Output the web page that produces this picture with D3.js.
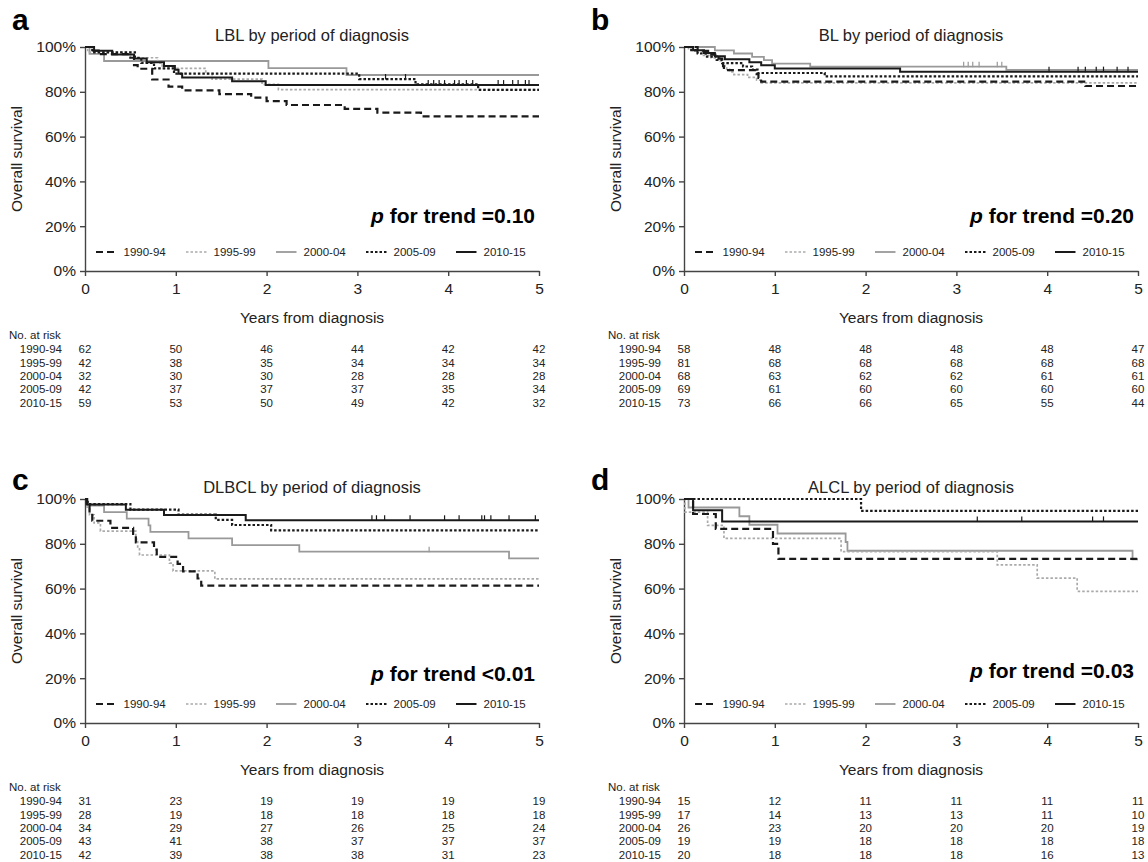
<!DOCTYPE html>
<html>
<head>
<meta charset="utf-8">
<script src="https://cdn.jsdelivr.net/npm/d3@7"></script>
<style>
  html, body { margin: 0; padding: 0; background: #fff; }
  svg { display: block; font-family: Arial, "Liberation Sans", Helvetica, sans-serif; }
</style>
</head>
<body>
<svg id="chart" width="1148" height="862"></svg>
<script>
const periods = ['1990-94', '1995-99', '2000-04', '2005-09', '2010-15']
const panelLetters = ['a', 'b', 'c', 'd']
const panelTitles = ['LBL by period of diagnosis', 'BL by period of diagnosis',
  'DLBCL by period of diagnosis', 'ALCL by period of diagnosis']
const trendValues = ['=0.10', '=0.20', '<0.01', '=0.03']
const xTicks = [0, 1, 2, 3, 4, 5]
const yTicks = [0, 20, 40, 60, 80, 100]

// survival steps: [years, survival %] after each drop, one list per period
const lblSteps = [
  [[0.08, 98.4], [0.15, 96.8], [0.47, 95.2], [0.54, 91.9], [0.58, 90.3], [0.74, 85.5], [0.92, 82.3],
    [1.07, 80.6], [1.48, 79.0], [1.83, 77.4], [2.0, 75.8], [2.22, 74.1], [2.86, 72.4], [3.22, 70.7], [3.7, 69.0]],
  [[0.03, 97.6], [0.5, 95.2], [0.8, 92.9], [0.85, 90.5], [1.33, 88.1], [1.4, 85.7], [1.95, 83.3], [2.13, 81.0]],
  [[0.05, 96.9], [0.21, 93.75], [2.02, 90.6], [2.88, 87.5]],
  [[0.08, 97.6], [0.55, 95.2], [0.62, 92.9], [0.76, 90.5], [0.98, 88.1], [3.02, 85.7], [3.64, 83.3], [4.33, 80.9]],
  [[0.1, 98.3], [0.3, 96.6], [0.54, 94.9], [0.68, 93.2], [0.87, 91.5], [0.99, 89.8], [1.03, 88.1],
    [1.07, 86.4], [1.62, 84.7], [1.99, 83.0]]
]
const blSteps = [
  [[0.15, 98.3], [0.3, 96.6], [0.38, 94.8], [0.42, 93.1], [0.43, 91.4], [0.44, 89.7], [0.8, 87.9],
    [0.82, 86.2], [0.85, 84.5], [4.42, 82.6]],
  [[0.05, 98.8], [0.12, 97.5], [0.2, 96.3], [0.3, 95.1], [0.4, 93.8], [0.43, 92.6], [0.45, 91.4],
    [0.47, 90.1], [0.5, 88.9], [0.55, 87.7], [0.7, 86.4], [0.8, 85.2], [0.85, 84.0]],
  [[0.34, 98.5], [0.55, 97.1], [0.75, 95.6], [0.88, 94.1], [0.97, 92.6], [1.39, 91.2], [3.55, 89.8]],
  [[0.08, 98.6], [0.15, 97.1], [0.24, 95.7], [0.36, 94.2], [0.42, 92.8], [0.65, 91.3], [0.75, 89.9],
    [0.81, 88.4], [1.55, 86.9]],
  [[0.1, 98.6], [0.22, 97.3], [0.34, 95.9], [0.45, 94.5], [0.72, 93.2], [0.85, 91.8], [1.0, 90.4], [2.38, 89.0]]
]
const dlbclSteps = [
  [[0.02, 96.8], [0.05, 93.5], [0.08, 90.3], [0.28, 87.1], [0.53, 83.9], [0.56, 80.6], [0.76, 77.4],
    [0.79, 74.2], [1.02, 71.0], [1.08, 67.7], [1.24, 64.5], [1.28, 61.3]],
  [[0.02, 96.4], [0.05, 92.9], [0.1, 89.3], [0.17, 85.7], [0.56, 82.1], [0.58, 78.6], [0.6, 75.0],
    [0.93, 71.4], [0.97, 67.9], [1.43, 64.3]],
  [[0.03, 97.1], [0.21, 94.1], [0.46, 91.2], [0.7, 88.2], [0.72, 85.3], [1.14, 82.4], [1.62, 79.4],
    [2.36, 76.5], [4.67, 73.5]],
  [[0.03, 97.7], [0.5, 95.3], [1.03, 93.0], [1.44, 90.7], [1.62, 88.4], [2.05, 86.0]],
  [[0.02, 97.6], [0.45, 95.2], [0.87, 92.9], [1.77, 90.5]]
]
const alclSteps = [
  [[0.1, 93.3], [0.35, 86.7], [0.98, 80.0], [1.04, 73.3]],
  [[0.01, 94.1], [0.26, 88.2], [0.44, 82.4], [1.73, 76.5], [3.45, 70.6], [3.89, 64.7], [4.33, 58.8]],
  [[0.05, 96.2], [0.61, 92.3], [0.72, 88.5], [1.03, 84.6], [1.78, 80.8], [1.8, 76.9], [4.94, 73.1]],
  [[1.95, 94.7]],
  [[0.1, 95.0], [0.42, 90.0]]
]

// censored observations (years)
const lblCensor = [[], [], [], [3.31, 3.53],
  [3.78, 3.84, 3.9, 3.96, 4.07, 4.12, 4.2, 4.27, 4.55, 4.61, 4.71, 4.77, 4.85, 4.89]]
const blCensor = [[], [], [3.08, 3.13, 3.18, 3.25, 3.45, 3.5], [], [4.02, 4.34, 4.42, 4.54, 4.62, 4.77, 4.89]]
const dlbclCensor = [[], [], [3.79], [], [3.16, 3.21, 3.3, 3.58, 3.96, 4.12, 4.37, 4.4, 4.47, 4.67, 4.96]]
const alclCensor = [[], [], [], [], [3.23, 3.72, 4.5, 4.62]]

// number at risk at years 0..5
const lblRisk = [[62, 50, 46, 44, 42, 42], [42, 38, 35, 34, 34, 34], [32, 30, 30, 28, 28, 28],
  [42, 37, 37, 37, 35, 34], [59, 53, 50, 49, 42, 32]]
const blRisk = [[58, 48, 48, 48, 48, 47], [81, 68, 68, 68, 68, 68], [68, 63, 62, 62, 61, 61],
  [69, 61, 60, 60, 60, 60], [73, 66, 66, 65, 55, 44]]
const dlbclRisk = [[31, 23, 19, 19, 19, 19], [28, 19, 18, 18, 18, 18], [34, 29, 27, 26, 25, 24],
  [43, 41, 38, 37, 37, 37], [42, 39, 38, 38, 31, 23]]
const alclRisk = [[15, 12, 11, 11, 11, 11], [17, 14, 13, 13, 11, 10], [26, 23, 20, 20, 20, 19],
  [19, 19, 18, 18, 18, 18], [20, 18, 18, 18, 16, 13]]

const panelSteps = [lblSteps, blSteps, dlbclSteps, alclSteps]
const panelCensor = [lblCensor, blCensor, dlbclCensor, alclCensor]
const panelRisk = [lblRisk, blRisk, dlbclRisk, alclRisk]

// layout
const plotW = 454
const plotH = 224
const origins = [{ x: 85, y: 47 }, { x: 684, y: 47 }, { x: 85, y: 499 }, { x: 684, y: 499 }]
const letterPos = [{ x: 12, y: 30 }, { x: 591, y: 30 }, { x: 12, y: 490 }, { x: 591, y: 490 }]
const pOffsets = [48, 48, 42, 45]

const lineStyle = [
  { color: '#1a1a1a', dash: '7,4', width: 2.2 },
  { color: '#aaaaaa', dash: '2.5,2', width: 1.7 },
  { color: '#999999', dash: null, width: 1.8 },
  { color: '#1a1a1a', dash: '2.5,2', width: 2.2 },
  { color: '#1a1a1a', dash: null, width: 2 }
]
const drawOrder = [2, 1, 0, 3, 4]

const svg = d3.select('#chart')

function survivalAt (steps, t) {
  let s = 100
  steps.forEach(d => { if (d[0] <= t) s = d[1] })
  return s
}

panelLetters.forEach((letter, pi) => {
  const o = origins[pi]
  const g = svg.append('g').attr('transform', `translate(${o.x},${o.y})`)
  const xScale = d3.scaleLinear().domain([0, 5]).range([0, plotW])
  const yScale = d3.scaleLinear().domain([0, 100]).range([plotH, 0])

  svg.append('text')
    .attr('x', letterPos[pi].x).attr('y', letterPos[pi].y)
    .attr('font-size', 30).attr('font-weight', 'bold').attr('fill', '#000')
    .text(letter)

  g.append('text')
    .attr('x', plotW / 2).attr('y', -6.5)
    .attr('text-anchor', 'middle').attr('font-size', 16.5).attr('fill', '#222')
    .text(panelTitles[pi])

  // axes
  const yAxis = g.append('g')
    .call(d3.axisLeft(yScale).tickValues(yTicks).tickFormat(d => d + '%').tickSize(5).tickPadding(4).tickSizeOuter(0))
  const xAxis = g.append('g').attr('transform', `translate(0,${plotH})`)
    .call(d3.axisBottom(xScale).tickValues(xTicks).tickFormat(d3.format('d')).tickSize(5).tickPadding(6.5).tickSizeOuter(0))
  ;[xAxis, yAxis].forEach(ax => {
    ax.select('.domain').attr('stroke', '#444').attr('stroke-width', 1.4)
    ax.selectAll('.tick line').attr('stroke', '#444').attr('stroke-width', 1.4)
    ax.selectAll('.tick text').attr('font-size', 15.5).attr('fill', '#222')
      .attr('font-family', 'Arial, "Liberation Sans", sans-serif')
  })

  g.append('text')
    .attr('transform', `translate(-68,${plotH / 2}) rotate(-90)`)
    .attr('text-anchor', 'middle').attr('dy', '0.35em')
    .attr('font-size', 15.5).attr('fill', '#222')
    .text('Overall survival')

  g.append('text')
    .attr('x', plotW / 2).attr('y', plotH + 52)
    .attr('text-anchor', 'middle').attr('font-size', 15.5).attr('fill', '#222')
    .text('Years from diagnosis')

  // curves
  const line = d3.line().x(d => xScale(d[0])).y(d => yScale(d[1])).curve(d3.curveStepAfter)
  drawOrder.forEach(si => {
    const steps = panelSteps[pi][si]
    const pts = [[0, 100], ...steps, [5, steps[steps.length - 1][1]]]
    const st = lineStyle[si]
    g.append('path').datum(pts)
      .attr('d', line)
      .attr('fill', 'none')
      .attr('stroke', st.color)
      .attr('stroke-width', st.width)
      .attr('stroke-dasharray', st.dash)
    g.selectAll(null).data(panelCensor[pi][si]).enter().append('line')
      .attr('x1', d => xScale(d)).attr('x2', d => xScale(d))
      .attr('y1', d => yScale(survivalAt(steps, d)) - 5)
      .attr('y2', d => yScale(survivalAt(steps, d)) + 0.5)
      .attr('stroke', st.color).attr('stroke-width', 1.2)
  })

  // p for trend
  const pt = g.append('text')
    .attr('x', plotW - 4).attr('y', plotH - pOffsets[pi])
    .attr('text-anchor', 'end').attr('font-size', 21).attr('font-weight', 'bold').attr('fill', '#000')
  pt.append('tspan').attr('font-style', 'italic').text('p')
  pt.append('tspan').text(' for trend ' + trendValues[pi])

  // legend
  const legend = g.append('g').attr('transform', `translate(11,${plotH - 19})`)
  periods.forEach((p, si) => {
    const st = lineStyle[si]
    const item = legend.append('g').attr('transform', `translate(${si * 90},0)`)
    item.append('line')
      .attr('x1', 0).attr('x2', 20.5).attr('y1', 0).attr('y2', 0)
      .attr('stroke', st.color).attr('stroke-width', st.width)
      .attr('stroke-dasharray', st.dash)
    item.append('text')
      .attr('x', 27.5).attr('y', 4)
      .attr('font-size', 11.5).attr('fill', '#222')
      .text(p)
  })

  // number at risk table
  g.append('text')
    .attr('x', -76).attr('y', plotH + 68)
    .attr('font-size', 11.5).attr('fill', '#222')
    .text('No. at risk')
  panelRisk[pi].forEach((row, si) => {
    const ry = plotH + 82.2 + si * 13.4
    g.append('text')
      .attr('x', -23).attr('y', ry)
      .attr('text-anchor', 'end').attr('font-size', 11.5).attr('fill', '#222')
      .text(periods[si])
    g.selectAll(null).data(row).enter().append('text')
      .attr('x', (d, i) => xScale(xTicks[i])).attr('y', ry)
      .attr('text-anchor', 'middle').attr('font-size', 11.5).attr('fill', '#222')
      .text(d => d)
  })
})
</script>
</body>
</html>
